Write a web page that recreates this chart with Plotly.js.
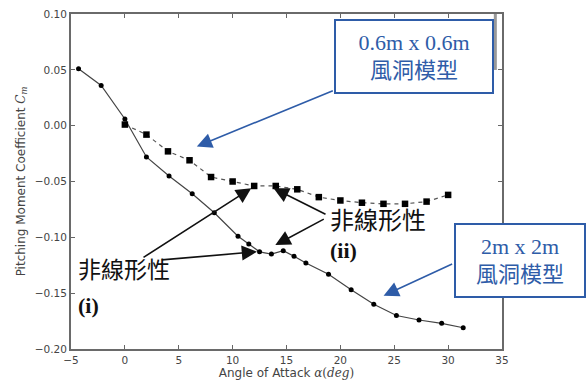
<!DOCTYPE html>
<html><head><meta charset="utf-8">
<script src="https://cdn.plot.ly/plotly-3.0.1.min.js"></script>
<style>html,body{margin:0;padding:0;background:#fff}</style>
</head><body><div id="chart" style="width:586px;height:380px"></div>
<script>
// 2m x 2m wind tunnel model (solid line, circles)
const alpha2m = [-4.3, -2.2, 0, 2, 4.1, 6.25, 8.3, 10.5, 11.5, 12.5, 13.6, 14.7, 15.7, 16.8, 18.9, 21, 23.1, 25.2, 27.3, 29.4, 31.4];
const cm2m = [0.051, 0.036, 0.006, -0.028, -0.045, -0.061, -0.078, -0.099, -0.106, -0.113, -0.115, -0.112, -0.117, -0.123, -0.133, -0.147, -0.160, -0.170, -0.174, -0.177, -0.181];
// 0.6m x 0.6m wind tunnel model (dashed line, squares)
const alpha06 = [0, 2, 4, 6, 8, 10, 12, 14, 16, 18, 20, 22, 24, 26, 28, 30];
const cm06 = [0.001, -0.008, -0.023, -0.031, -0.046, -0.050, -0.054, -0.054, -0.057, -0.064, -0.067, -0.069, -0.070, -0.070, -0.068, -0.062];
const xTickVals = [-5, 0, 5, 10, 15, 20, 25, 30, 35];
const yTickVals = [-0.20, -0.15, -0.10, -0.05, 0.00, 0.05, 0.10];
const box06Text = "0.6m x 0.6m<br>風洞模型";
const box2Text = "2m x 2m<br>風洞模型";
const nonlinText = "非線形性";
const labelI = "(i)";
const labelII = "(ii)";

const blue = '#2E5CA8';
const axisFont = {family: 'DejaVu Sans, sans-serif', size: 10.5, color: '#444'};

const traces = [
  {x: alpha2m, y: cm2m, type: 'scatter', mode: 'lines+markers',
   line: {color: '#444', width: 1.2},
   marker: {symbol: 'circle', size: 5, color: '#000'}, hoverinfo: 'skip'},
  {x: alpha06, y: cm06, type: 'scatter', mode: 'lines+markers',
   line: {color: '#555', width: 1.2, dash: '4px,4px'},
   marker: {symbol: 'square', size: 6.5, color: '#000'}, hoverinfo: 'skip'}
];

function arrow(x, y, ax, ay, color) {
  return {x: x, y: y, ax: ax, ay: ay, xref: 'x', yref: 'y', axref: 'x', ayref: 'y',
    text: '', showarrow: true, arrowhead: 2, arrowsize: 1.9, arrowwidth: 1.6,
    arrowcolor: color, standoff: 0, startstandoff: 0};
}

const annotations = [
  {x: 0.7954, y: 0.8737, xref: 'paper', yref: 'paper', xanchor: 'center', yanchor: 'middle',
   text: box06Text, showarrow: false, width: 154, height: 69, borderpad: 1,
   bordercolor: blue, borderwidth: 2, bgcolor: '#fff',
   font: {family: 'Liberation Serif, Noto Sans CJK TC, serif', size: 22, color: blue}},
  {x: 1.0408, y: 0.2633, xref: 'paper', yref: 'paper', xanchor: 'center', yanchor: 'middle',
   text: box2Text, showarrow: false, width: 126, height: 69, borderpad: 1,
   bordercolor: blue, borderwidth: 2, bgcolor: '#fff',
   font: {family: 'Liberation Serif, Noto Sans CJK TC, serif', size: 22, color: blue}},
  arrow(6.675, -0.0187, 19.44, 0.0319, blue),
  arrow(24.01, -0.1523, 30.51, -0.1232, blue),
  arrow(11.73, -0.0561, 1.59, -0.1188, '#111'),
  arrow(12.26, -0.1129, 3.29, -0.1203, '#111'),
  arrow(13.80, -0.0561, 18.76, -0.080, '#111'),
  arrow(13.96, -0.1069, 18.60, -0.083, '#111'),
  {x: 0.012, y: 0.2409, xref: 'paper', yref: 'paper', xanchor: 'left', yanchor: 'middle',
   text: nonlinText, showarrow: false,
   font: {family: 'Noto Sans CJK TC, sans-serif', size: 23, color: '#111'}},
  {x: 0.012, y: 0.1313, xref: 'paper', yref: 'paper', xanchor: 'left', yanchor: 'middle',
   text: '<b>' + labelI + '</b>', showarrow: false,
   font: {family: 'Liberation Serif, serif', size: 22, color: '#111'}},
  {x: 0.596, y: 0.3901, xref: 'paper', yref: 'paper', xanchor: 'left', yanchor: 'middle',
   text: nonlinText, showarrow: false,
   font: {family: 'Noto Sans CJK TC, sans-serif', size: 24, color: '#111'}},
  {x: 0.596, y: 0.2955, xref: 'paper', yref: 'paper', xanchor: 'left', yanchor: 'middle',
   text: '<b>' + labelII + '</b>', showarrow: false,
   font: {family: 'Liberation Serif, serif', size: 22, color: '#111'}}
];

const layout = {
  width: 586, height: 380,
  margin: {l: 71, r: 84, t: 14, b: 31, pad: 0},
  paper_bgcolor: '#fff', plot_bgcolor: '#fff',
  showlegend: false,
  xaxis: {range: [-5, 35], tickvals: xTickVals, ticktext: xTickVals.map(v => v < 0 ? '\u2212' + Math.abs(v) : String(v)),
    ticks: 'inside', ticklen: 4, tickwidth: 1, tickcolor: '#666',
    showline: true, linecolor: '#6a6a6a', linewidth: 2, mirror: 'ticks',
    showgrid: false, zeroline: false, tickfont: axisFont, automargin: false,
    title: {text: "Angle of Attack <span style=\"font-family:'DejaVu Serif'\"><i>α</i>(<i>deg</i>)</span>",
      font: {family: 'DejaVu Sans, sans-serif', size: 12, color: '#444'}, standoff: 4}},
  yaxis: {range: [-0.2, 0.1], tickvals: yTickVals,
    ticktext: yTickVals.map(v => (v < 0 ? '\u2212' : '') + Math.abs(v).toFixed(2)),
    ticks: 'inside', ticklen: 4, tickwidth: 1, tickcolor: '#666',
    showline: true, linecolor: '#6a6a6a', linewidth: 2, mirror: 'ticks',
    showgrid: false, zeroline: false, tickfont: axisFont, automargin: false,
    title: {text: "Pitching Moment Coefficient <span style=\"font-family:'DejaVu Serif'\"><i>C</i><sub><i>m</i></sub></span>",
      font: {family: 'DejaVu Sans, sans-serif', size: 12, color: '#444'}, standoff: 7}},
  shapes: [
    {type: 'rect', xref: 'paper', yref: 'paper', x0: 0.981, x1: 0.988, y0: 0.833, y1: 1.0,
     fillcolor: '#999', line: {width: 0}, layer: 'above'}
  ],
  annotations: annotations
};

Plotly.newPlot('chart', traces, layout, {staticPlot: true, displayModeBar: false});
</script>
</body></html>
